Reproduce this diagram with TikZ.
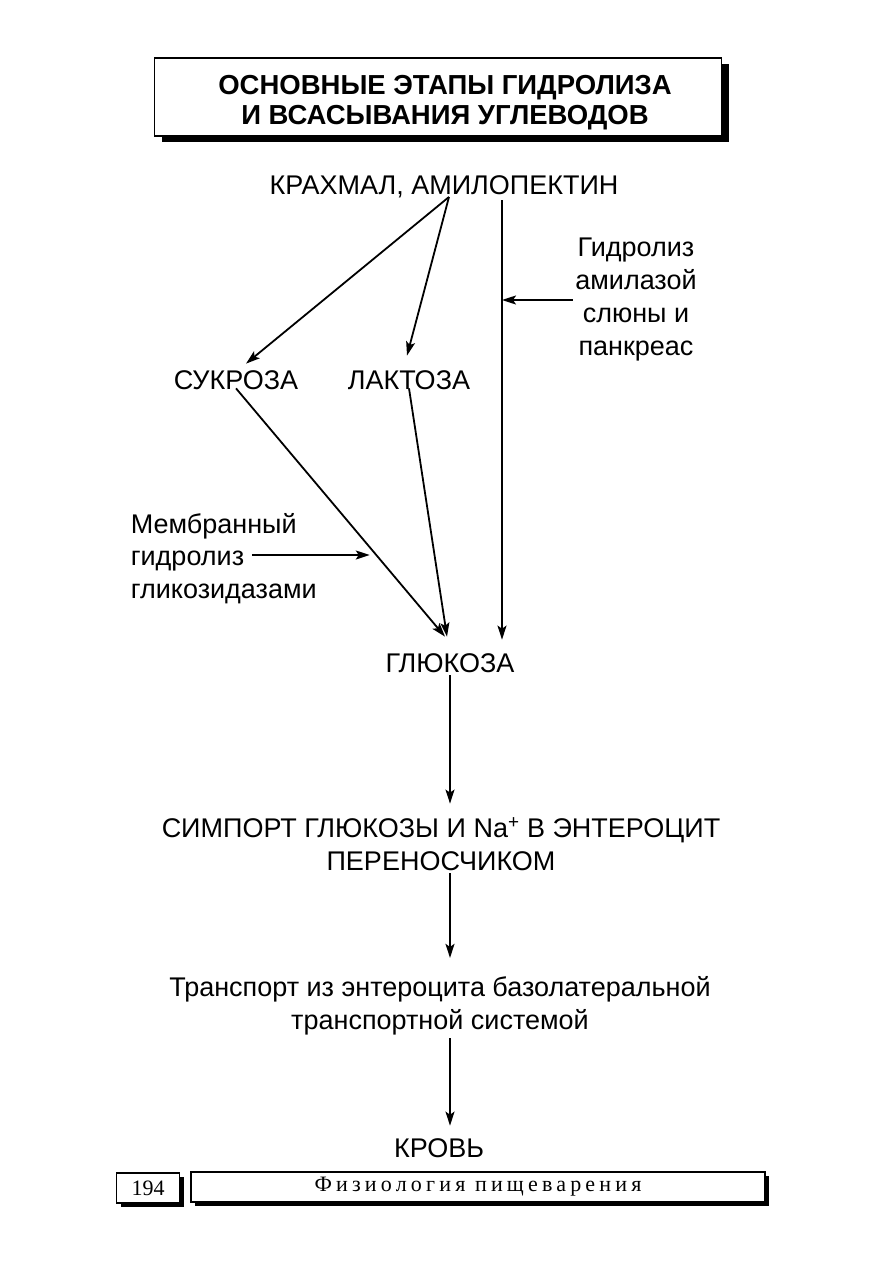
\documentclass[tikz,border=0pt]{standalone}
\usepackage{fontspec}
\setmainfont{Liberation Sans}
\newfontfamily\pagefont{Liberation Serif}
\newfontfamily\chapfont[LetterSpace=19]{Liberation Serif}
\usetikzlibrary{arrows.meta, positioning, calc, shadows}
\tikzset{
  every picture/.style={line width=1.6pt},
  lbl/.style={font=\fontsize{27}{33}\selectfont, inner sep=2pt, align=center},
  note/.style={font=\fontsize{27}{33}\selectfont, inner sep=2pt, anchor=base west},
  title/.style={font=\fontsize{27.5}{30}\selectfont\bfseries, align=center},
  titlebox/.style={draw, fill=white, line width=1.3pt, minimum width=567pt, minimum height=78pt,
    drop shadow={shadow xshift=7pt, shadow yshift=-6pt, fill=black, opacity=1}},
  pagebox/.style={draw, fill=white, line width=1.2pt, minimum height=30pt, inner sep=0pt,
    drop shadow={shadow xshift=4pt, shadow yshift=-4pt, fill=black, opacity=1}},
  arrow/.style={-{Stealth[length=14pt, width=9pt, inset=3pt]}, line width=1.8pt},
}

\begin{document}
\begin{tikzpicture}[x=1pt, y=-1pt]
  \useasboundingbox (0,0) rectangle (893,1263);
  % heading
  \node[titlebox] (headbox) at (438,97) {};
  \node[title] (head) at (445,103) {ОСНОВНЫЕ ЭТАПЫ ГИДРОЛИЗА\\И ВСАСЫВАНИЯ УГЛЕВОДОВ};
  % substrates
  \node[lbl] (krah) at (444,187) {КРАХМАЛ, АМИЛОПЕКТИН};
  \node[lbl] (suc) at (236,380) {СУКРОЗА};
  \node[lbl] (lac) at (409,380) {ЛАКТОЗА};
  \node[lbl] (hyd) at (636,300) {Гидролиз\\амилазой\\слюны и\\панкреас};
  \node[note] (mem1) at (128,533) {Мембранный};
  \node[note] (mem2) at (128,565) {гидролиз};
  \node[note] (mem3) at (128,598) {гликозидазами};
  \node[lbl] (glu) at (450,663) {ГЛЮКОЗА};
  \node[lbl] (sym) at (441,844) {СИМПОРТ ГЛЮКОЗЫ И Na\textsuperscript{+} В ЭНТЕРОЦИТ\\ПЕРЕНОСЧИКОМ};
  \node[lbl] (tra) at (440,1006) {Транспорт из энтероцита базолатеральной\\транспортной системой};
  \node[lbl] (blood) at (439,1148) {КРОВЬ};
  % footer
  \node[pagebox, minimum width=63pt, font=\pagefont\fontsize{22}{24}\selectfont] (page) at (148,1188) {194};
  \node[pagebox, minimum width=574pt, font=\chapfont\fontsize{22}{24}\selectfont] (chap) at (478,1187) {Физиология пищеварения};

  \coordinate (kx) at ([xshift=5pt,yshift=4pt]krah.south);
  \coordinate (amy) at (502,200);
  \coordinate (gx) at ([xshift=-5pt,yshift=14pt]glu.north);
  \draw[arrow] (kx) -- ([xshift=10pt,yshift=4pt]suc.north);
  \draw[arrow] (kx) -- ([xshift=-2pt,yshift=12pt]lac.north);
  \draw[arrow] (amy) -- ([yshift=11pt]glu.north -| amy);
  \draw[arrow] (hyd.west) -- (hyd.west -| amy);
  \draw[arrow] ([yshift=4pt]suc.south) -- (gx);
  \draw[arrow] ([yshift=4pt]lac.south) -- ([xshift=2pt]gx);
  \path ([yshift=4pt]suc.south) -- (gx) coordinate[pos=0.64] (mtip);
  \draw[arrow] ([xshift=5pt,yshift=10pt]mem2.base east) -- ([yshift=10pt]mem2.base east -| mtip);
  % main chain
  \coordinate (col) at (450,0);
  \foreach \a/\b/\s in {glu/sym/11, sym/tra/16, tra/blood/10}
    \draw[arrow, shorten >=\s pt] (\a.south -| col) -- (\b.north -| col);
\end{tikzpicture}
\end{document}
